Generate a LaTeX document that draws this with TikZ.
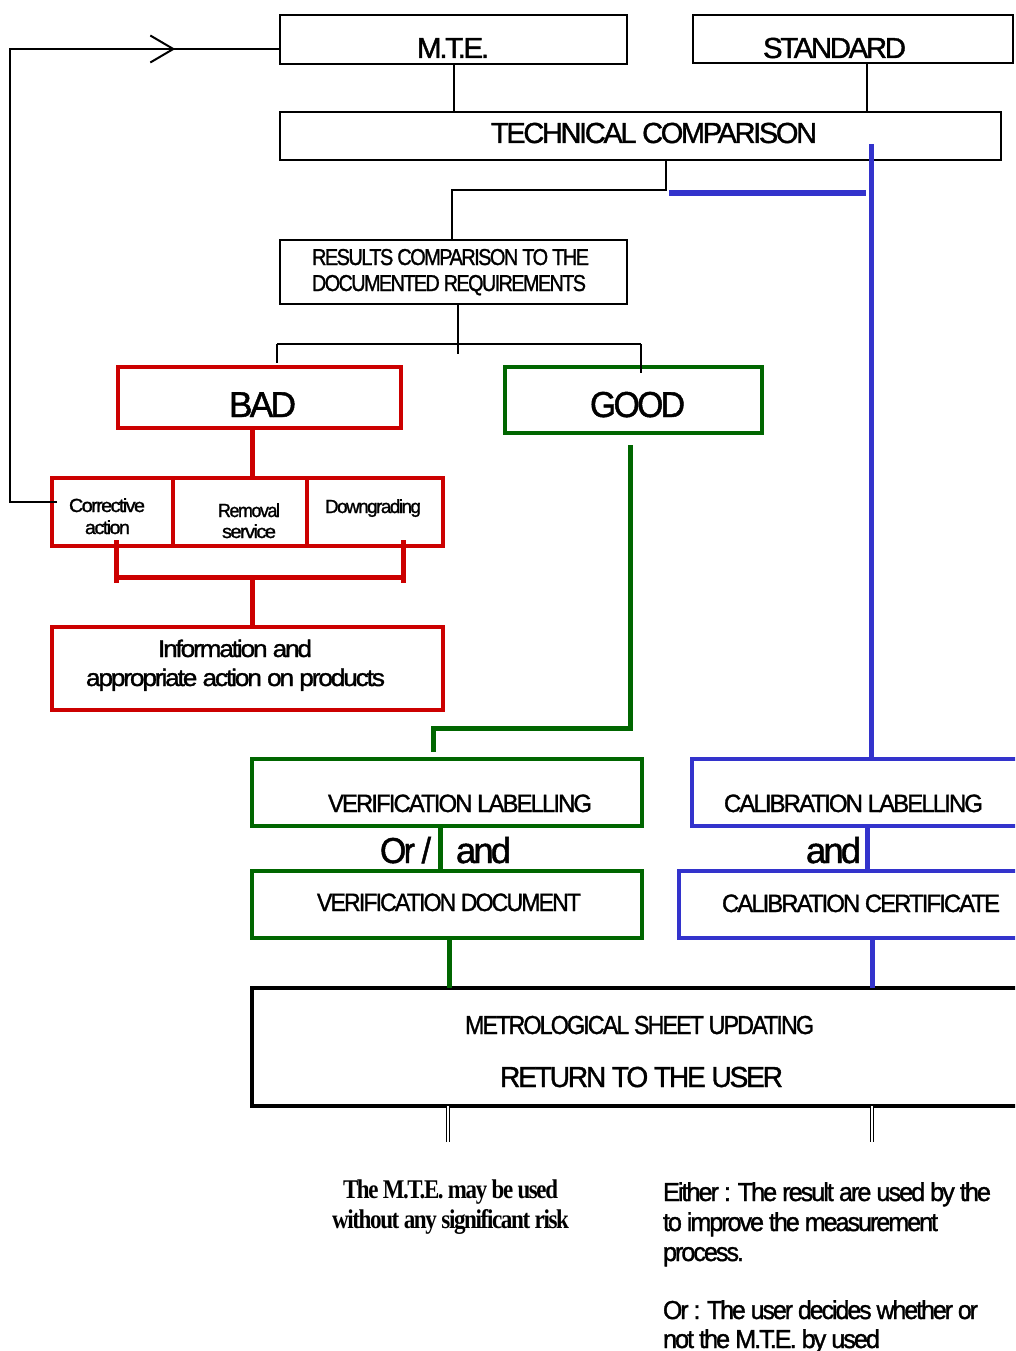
\documentclass[tikz,border=0pt]{standalone}
\usepackage{fontspec}
\usepackage{graphicx}
\setmainfont{Liberation Sans}[LetterSpace=-8, FakeBold=1.3]
\newfontfamily\tnr{Liberation Serif}[LetterSpace=-6]
\usetikzlibrary{arrows.meta,decorations.markings,calc}
\definecolor{cred}{HTML}{CC0000}
\definecolor{cgreen}{HTML}{006600}
\definecolor{cblue}{HTML}{3333CC}
\newcommand\tx[3]{\resizebox{#1pt}{\height}{\fontsize{#2pt}{#2pt}\selectfont #3}}
\begin{document}
\begin{tikzpicture}[x=1pt,y=-1pt,
  box/.style={draw, rectangle, anchor=north west, inner sep=0pt, outer sep=0pt, line width=2pt},
  redbox/.style={box, draw=cred, line width=4pt},
  greenbox/.style={box, draw=cgreen, line width=4.5pt},
  bluebox/.style={box, draw=cblue, line width=4pt},
  txt/.style={inner sep=0pt, outer sep=0pt, anchor=base west},
  blk/.style={line width=2pt},
  redln/.style={draw=cred, line width=5pt},
  greenln/.style={draw=cgreen, line width=5pt},
  blueln/.style={draw=cblue, line width=5pt},
  dbl/.style={double, double distance=2pt, line width=1pt}]
\useasboundingbox (0,0) rectangle (1015,1351);
\clip (0,0) rectangle (1015,1351);

% ---- boxes
\node[box, minimum width=347pt, minimum height=49pt] (mte) at (280,15) {};
\node[box, minimum width=320pt, minimum height=48pt] (std) at (693,15) {};
\node[box, minimum width=721pt, minimum height=48pt] (tc) at (280,112) {};
\node[box, minimum width=347pt, minimum height=64pt] (rc) at (280,240) {};
\node[redbox, minimum width=283pt, minimum height=61pt] (bad) at (118,367) {};
\node[greenbox, minimum width=257pt, minimum height=66pt] (good) at (505,367) {};
\node[redbox, minimum width=121pt, minimum height=68pt] (corr) at (52,478) {};
\node[redbox, minimum width=134pt, minimum height=68pt] (rem) at (173,478) {};
\node[redbox, minimum width=136pt, minimum height=68pt] (down) at (307,478) {};
\node[redbox, minimum width=391pt, minimum height=83pt] (info) at (52,627) {};
\node[greenbox, minimum width=390pt, minimum height=67pt] (vl) at (252,759) {};
\node[greenbox, minimum width=390pt, minimum height=67pt] (vd) at (252,871) {};
\node[bluebox, minimum width=340pt, minimum height=67pt] (cl) at (692,759) {};
\node[bluebox, minimum width=353pt, minimum height=67pt] (cc) at (679,871) {};
\node[box, line width=4pt, minimum width=780pt, minimum height=118pt] (ml) at (252,988) {};

% ---- texts
\node[txt] (tmte) at (417,58) {\tx{72}{29}{M.T.E.}};
\node[txt] (tstd) at (763,58) {\tx{143}{29}{STANDARD}};
\node[txt] (ttc) at (491,143) {\tx{326}{29}{TECHNICAL COMPARISON}};
\node[txt] (trc1) at (312,265) {\tx{277}{23}{RESULTS COMPARISON TO THE}};
\node[txt] (trc2) at (312,291) {\tx{274}{23}{DOCUMENTED REQUIREMENTS}};
\node[txt] (tbad) at (229,417) {\tx{67}{36}{BAD}};
\node[txt] (tgood) at (590,417) {\tx{95}{36}{GOOD}};
\node[txt] (tcorr1) at (69,512) {\tx{76}{19}{Corrective}};
\node[txt] (tcorr2) at (85,534) {\tx{45}{19}{action}};
\node[txt] (trem1) at (218,517) {\tx{62}{19}{Removal}};
\node[txt] (trem2) at (222,538) {\tx{54}{19}{service}};
\node[txt] (tdown) at (325,513) {\tx{96}{19}{Downgrading}};
\node[txt] (tinfo1) at (158,657) {\tx{154}{24}{Information and}};
\node[txt] (tinfo2) at (86,686) {\tx{299}{24}{appropriate action on products}};
\node[txt] (tvl) at (328,812) {\tx{264}{25}{VERIFICATION LABELLING}};
\node[txt] (tor) at (380,863) {\tx{51}{36}{Or /}};
\node[txt] (tand1) at (456,863) {\tx{55}{36}{and}};
\node[txt] (tvd) at (317,911) {\tx{264}{25}{VERIFICATION DOCUMENT}};
\node[txt] (tcl) at (724,812) {\tx{259}{25}{CALIBRATION LABELLING}};
\node[txt] (tand2) at (806,863) {\tx{55}{36}{and}};
\node[txt] (tcc) at (722,912) {\tx{278}{25}{CALIBRATION CERTIFICATE}};
\node[txt] (tml1) at (465,1034) {\tx{349}{26}{METROLOGICAL SHEET UPDATING}};
\node[txt] (tml2) at (500,1087) {\tx{283}{29}{RETURN TO THE USER}};
\node[txt] (ts1) at (343,1198) {\tx{215}{27}{\tnr\bfseries The M.T.E. may be used}};
\node[txt] (ts2) at (332,1228) {\tx{237}{27}{\tnr\bfseries without any significant risk}};
\node[txt] (te1) at (663,1201) {\tx{328}{26}{Either : The result are used by the}};
\node[txt] (te2) at (663,1231) {\tx{275}{26}{to improve the measurement}};
\node[txt] (te3) at (663,1261) {\tx{81}{26}{process.}};
\node[txt] (te4) at (663,1319) {\tx{315}{26}{Or : The user decides whether or}};
\node[txt] (te5) at (663,1348) {\tx{217}{26}{not the M.T.E. by used}};

% ---- black connectors
\draw[blk] (mte.south) -- (mte.south |- tc.north);
\draw[blk] ([xshift=14pt]std.south) -- ([xshift=14pt]std.south |- tc.north);
\draw[blk] ([xshift=25.5pt]tc.south) -- ++(0,30) -| ([xshift=-1.5pt]rc.north);
\draw[blk] ([xshift=4.5pt]rc.south) -- ++(0,50);
\coordinate (jL) at (277,344);
\coordinate (jR) at (641,344);
\draw[blk] (jL) -- (jR);
\draw[blk] (jL) -- ([yshift=4pt]jL |- bad.north);
\draw[blk] (jR) -- ([yshift=-6pt]jR |- good.north);
\draw[blk, decoration={markings, mark=at position 0.864 with {\arrow{Straight Barb[length=23pt,width=27pt]}}}, postaction={decorate}]
  ([shift={(5,-10)}]corr.west) -| ($(mte.west)+(-270,9.5)$) -- ([shift={(0,9.5)}]mte.west);

% ---- blue connectors
\draw[draw=cblue, line width=6pt] (669,193) -- (866,193);
\coordinate (btop) at (871,144);
\draw[blueln] (btop) -- (btop |- cl.north);
\draw[blueln] ([xshift=5pt]cl.south) -- ([xshift=5pt]cl.south |- cc.north);
\draw[blueln] ([xshift=16.5pt]cc.south) -- ([xshift=16.5pt]cc.south |- ml.north);

% ---- red connectors
\draw[redln] ([xshift=-7.5pt]bad.south) -- ([xshift=-7.5pt]bad.south |- rem.north);
\coordinate (bl) at (116,540);
\coordinate (br) at (403,540);
\draw[redln] (bl) -- ++(0,43);
\draw[redln] (br) -- ++(0,43);
\draw[redln] ([shift={(0,37)}]bl) -- ([shift={(0,37)}]br);
\coordinate (bm) at (252,577);
\draw[redln] (bm) -- (bm |- info.north);

% ---- green connectors
\coordinate (g1) at (630,445);
\coordinate (g2) at (433,728);
\draw[greenln] (g1) |- (g2) -- ([shift={(0,-7)}]g2 |- vl.north);
\draw[greenln] ([xshift=-7pt]vl.south) -- ([xshift=-7pt]vd.north);
\draw[greenln] ([xshift=2pt]vd.south) -- ([xshift=2pt]vd.south |- ml.north);

% ---- double lines
\draw[dbl] ([xshift=1pt]vd.south |- ml.south) -- ++(0,36);
\draw[dbl] ([xshift=16.5pt]cc.south |- ml.south) -- ++(0,36);
\end{tikzpicture}
\end{document}
